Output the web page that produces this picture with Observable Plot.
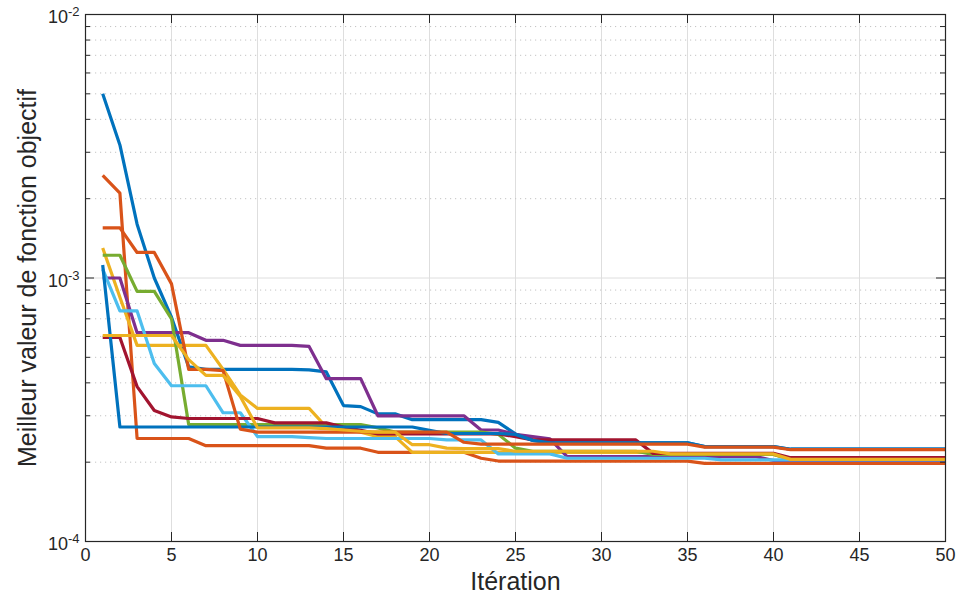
<!DOCTYPE html>
<html>
<head>
<meta charset="utf-8">
<script src="https://cdn.jsdelivr.net/npm/d3@7"></script>
<script src="https://cdn.jsdelivr.net/npm/@observablehq/plot@0.6"></script>
<style>
  html, body { margin: 0; padding: 0; background: #ffffff; }
  #chart { width: 959px; height: 610px; }
</style>
</head>
<body>
<div id="chart"></div>
<script>
// ---------- Data ----------
const iterations = d3.range(1, 51);

const blue1 = [
  5.0e-3, 3.2e-3, 1.6e-3, 1.0e-3, 7.1e-4, 4.6e-4, 4.5e-4, 4.5e-4, 4.5e-4, 4.5e-4,
  4.5e-4, 4.5e-4, 4.48e-4, 4.4e-4, 3.28e-4, 3.25e-4, 3.05e-4, 3.05e-4, 2.9e-4, 2.9e-4,
  2.9e-4, 2.9e-4, 2.9e-4, 2.83e-4, 2.56e-4, 2.42e-4, 2.37e-4, 2.37e-4, 2.37e-4, 2.37e-4,
  2.37e-4, 2.37e-4, 2.37e-4, 2.37e-4, 2.37e-4, 2.29e-4, 2.29e-4, 2.29e-4, 2.29e-4, 2.29e-4,
  2.24e-4, 2.24e-4, 2.24e-4, 2.24e-4, 2.24e-4, 2.24e-4, 2.24e-4, 2.24e-4, 2.24e-4, 2.24e-4
];
const orange1 = [
  2.45e-3, 2.1e-3, 2.46e-4, 2.46e-4, 2.46e-4, 2.46e-4, 2.31e-4, 2.31e-4, 2.31e-4, 2.31e-4,
  2.31e-4, 2.31e-4, 2.31e-4, 2.26e-4, 2.26e-4, 2.26e-4, 2.18e-4, 2.18e-4, 2.18e-4, 2.18e-4,
  2.18e-4, 2.18e-4, 2.07e-4, 2.02e-4, 2.02e-4, 2.02e-4, 2.02e-4, 2.02e-4, 2.02e-4, 2.02e-4,
  2.02e-4, 2.02e-4, 2.02e-4, 2.02e-4, 2.02e-4, 1.98e-4, 1.98e-4, 1.98e-4, 1.98e-4, 1.98e-4,
  1.98e-4, 1.98e-4, 1.98e-4, 1.98e-4, 1.98e-4, 1.98e-4, 1.98e-4, 1.98e-4, 1.98e-4, 1.98e-4
];
const yellow1 = [
  1.3e-3, 8.45e-4, 5.55e-4, 5.55e-4, 5.55e-4, 5.55e-4, 5.55e-4, 4.5e-4, 3.6e-4, 3.2e-4,
  3.2e-4, 3.2e-4, 3.2e-4, 2.72e-4, 2.68e-4, 2.6e-4, 2.5e-4, 2.5e-4, 2.18e-4, 2.18e-4,
  2.18e-4, 2.18e-4, 2.18e-4, 2.18e-4, 2.18e-4, 2.18e-4, 2.18e-4, 2.18e-4, 2.18e-4, 2.18e-4,
  2.18e-4, 2.18e-4, 2.18e-4, 2.14e-4, 2.14e-4, 2.14e-4, 2.14e-4, 2.14e-4, 2.14e-4, 2.14e-4,
  2.05e-4, 2.05e-4, 2.05e-4, 2.05e-4, 2.05e-4, 2.05e-4, 2.05e-4, 2.05e-4, 2.05e-4, 2.05e-4
];
const purple = [
  1.0e-3, 1.0e-3, 6.2e-4, 6.2e-4, 6.2e-4, 6.2e-4, 5.8e-4, 5.8e-4, 5.55e-4, 5.55e-4,
  5.55e-4, 5.55e-4, 5.5e-4, 4.15e-4, 4.15e-4, 4.15e-4, 3.0e-4, 3.0e-4, 3.0e-4, 3.0e-4,
  3.0e-4, 3.0e-4, 2.65e-4, 2.65e-4, 2.55e-4, 2.5e-4, 2.45e-4, 2.1e-4, 2.1e-4, 2.1e-4,
  2.1e-4, 2.1e-4, 2.1e-4, 2.1e-4, 2.1e-4, 2.1e-4, 2.1e-4, 2.1e-4, 2.1e-4, 2.03e-4,
  2.03e-4, 2.03e-4, 2.03e-4, 2.03e-4, 2.03e-4, 2.03e-4, 2.03e-4, 2.03e-4, 2.03e-4, 2.03e-4
];
const green = [
  1.22e-3, 1.22e-3, 8.9e-4, 8.9e-4, 7.0e-4, 2.78e-4, 2.78e-4, 2.78e-4, 2.78e-4, 2.78e-4,
  2.78e-4, 2.78e-4, 2.78e-4, 2.78e-4, 2.78e-4, 2.78e-4, 2.7e-4, 2.6e-4, 2.6e-4, 2.6e-4,
  2.6e-4, 2.6e-4, 2.6e-4, 2.55e-4, 2.26e-4, 2.2e-4, 2.2e-4, 2.2e-4, 2.2e-4, 2.2e-4,
  2.2e-4, 2.2e-4, 2.14e-4, 2.14e-4, 2.14e-4, 2.14e-4, 2.14e-4, 2.14e-4, 2.14e-4, 2.14e-4,
  2.05e-4, 2.05e-4, 2.05e-4, 2.05e-4, 2.05e-4, 2.05e-4, 2.05e-4, 2.05e-4, 2.05e-4, 2.05e-4
];
const lightBlue = [
  1.08e-3, 7.5e-4, 7.5e-4, 4.74e-4, 3.9e-4, 3.9e-4, 3.9e-4, 3.08e-4, 3.08e-4, 2.5e-4,
  2.5e-4, 2.5e-4, 2.48e-4, 2.46e-4, 2.46e-4, 2.46e-4, 2.46e-4, 2.46e-4, 2.46e-4, 2.46e-4,
  2.43e-4, 2.43e-4, 2.43e-4, 2.15e-4, 2.15e-4, 2.15e-4, 2.15e-4, 2.07e-4, 2.07e-4, 2.07e-4,
  2.07e-4, 2.07e-4, 2.07e-4, 2.07e-4, 2.07e-4, 2.07e-4, 2.04e-4, 2.04e-4, 2.04e-4, 2.04e-4,
  2.04e-4, 2.04e-4, 2.04e-4, 2.04e-4, 2.04e-4, 2.04e-4, 2.04e-4, 2.04e-4, 2.04e-4, 2.04e-4
];
const darkRed = [
  5.95e-4, 5.95e-4, 3.87e-4, 3.14e-4, 2.97e-4, 2.93e-4, 2.93e-4, 2.93e-4, 2.93e-4, 2.93e-4,
  2.82e-4, 2.82e-4, 2.82e-4, 2.82e-4, 2.72e-4, 2.64e-4, 2.56e-4, 2.56e-4, 2.56e-4, 2.56e-4,
  2.56e-4, 2.56e-4, 2.56e-4, 2.56e-4, 2.5e-4, 2.43e-4, 2.43e-4, 2.43e-4, 2.43e-4, 2.43e-4,
  2.43e-4, 2.43e-4, 2.16e-4, 2.16e-4, 2.16e-4, 2.16e-4, 2.16e-4, 2.16e-4, 2.16e-4, 2.16e-4,
  2.08e-4, 2.08e-4, 2.08e-4, 2.08e-4, 2.08e-4, 2.08e-4, 2.08e-4, 2.08e-4, 2.08e-4, 2.08e-4
];
const blue2 = [
  1.12e-3, 2.72e-4, 2.72e-4, 2.72e-4, 2.72e-4, 2.72e-4, 2.72e-4, 2.72e-4, 2.72e-4, 2.72e-4,
  2.72e-4, 2.72e-4, 2.72e-4, 2.72e-4, 2.72e-4, 2.72e-4, 2.72e-4, 2.72e-4, 2.72e-4, 2.64e-4,
  2.57e-4, 2.57e-4, 2.57e-4, 2.57e-4, 2.55e-4, 2.42e-4, 2.37e-4, 2.37e-4, 2.37e-4, 2.37e-4,
  2.37e-4, 2.37e-4, 2.37e-4, 2.37e-4, 2.37e-4, 2.29e-4, 2.29e-4, 2.29e-4, 2.29e-4, 2.29e-4,
  2.24e-4, 2.24e-4, 2.24e-4, 2.24e-4, 2.24e-4, 2.24e-4, 2.24e-4, 2.24e-4, 2.24e-4, 2.24e-4
];
const orange2 = [
  1.55e-3, 1.55e-3, 1.25e-3, 1.25e-3, 9.5e-4, 4.5e-4, 4.5e-4, 4.45e-4, 2.67e-4, 2.6e-4,
  2.6e-4, 2.6e-4, 2.6e-4, 2.6e-4, 2.6e-4, 2.6e-4, 2.6e-4, 2.6e-4, 2.6e-4, 2.6e-4,
  2.6e-4, 2.38e-4, 2.34e-4, 2.34e-4, 2.34e-4, 2.34e-4, 2.34e-4, 2.34e-4, 2.34e-4, 2.34e-4,
  2.34e-4, 2.34e-4, 2.34e-4, 2.34e-4, 2.34e-4, 2.28e-4, 2.28e-4, 2.28e-4, 2.28e-4, 2.28e-4,
  2.23e-4, 2.23e-4, 2.23e-4, 2.23e-4, 2.23e-4, 2.23e-4, 2.23e-4, 2.23e-4, 2.23e-4, 2.23e-4
];
const yellow2 = [
  6.05e-4, 6.05e-4, 6.05e-4, 6.05e-4, 6.05e-4, 4.9e-4, 4.27e-4, 4.27e-4, 3.55e-4, 2.7e-4,
  2.7e-4, 2.7e-4, 2.7e-4, 2.68e-4, 2.65e-4, 2.62e-4, 2.6e-4, 2.6e-4, 2.33e-4, 2.33e-4,
  2.26e-4, 2.25e-4, 2.25e-4, 2.25e-4, 2.2e-4, 2.2e-4, 2.2e-4, 2.2e-4, 2.2e-4, 2.2e-4,
  2.2e-4, 2.2e-4, 2.2e-4, 2.15e-4, 2.15e-4, 2.15e-4, 2.15e-4, 2.15e-4, 2.15e-4, 2.15e-4,
  2.05e-4, 2.05e-4, 2.05e-4, 2.05e-4, 2.05e-4, 2.05e-4, 2.05e-4, 2.05e-4, 2.05e-4, 2.05e-4
];

// Draw order (later on top) and colours (MATLAB default order)
const seriesValues = [blue1, orange1, yellow1, purple, green, lightBlue, darkRed, blue2, orange2, yellow2];
const seriesColors = ["#0072BD", "#D95319", "#EDB120", "#7E2F8E", "#77AC30", "#4DBEEE", "#A2142F", "#0072BD", "#D95319", "#EDB120"];

const xTicks = [0, 5, 10, 15, 20, 25, 30, 35, 40, 45, 50];
const yMajor = [1e-4, 1e-3, 1e-2];
const yMajorLabels = ["10^-4", "10^-3", "10^-2"];
const yMinor = [2e-4, 3e-4, 4e-4, 5e-4, 6e-4, 7e-4, 8e-4, 9e-4, 2e-3, 3e-3, 4e-3, 5e-3, 6e-3, 7e-3, 8e-3, 9e-3];
const xLabel = "Itération";
const yLabel = "Meilleur valeur de fonction objectif";

// ---------- Layout ----------
const W = 959, H = 610;
const mL = 85, mR = 14, mT = 14, mB = 69;
const PW = W - mL - mR, PH = H - mT - mB;
const axisColor = "#262626";
const fontStack = "'Liberation Sans', Arial, Helvetica, sans-serif";

const lineMarks = seriesValues.map((vals, s) =>
  Plot.line(iterations.map((it, i) => ({it, v: vals[i]})), {
    x: "it", y: "v", stroke: seriesColors[s], strokeWidth: 3.2,
    strokeLinejoin: "round", strokeLinecap: "butt"
  })
);

const chart = Plot.plot({
  width: W, height: H,
  marginLeft: mL, marginRight: mR, marginTop: mT, marginBottom: mB,
  style: {background: "#ffffff", color: axisColor, fontFamily: fontStack, fontSize: "18px", overflow: "visible"},
  x: {domain: [0, 50]},
  y: {type: "log", domain: [1e-4, 1e-2]},
  marks: [
    Plot.gridX({ticks: xTicks, stroke: "#dedede", strokeOpacity: 1, strokeWidth: 1}),
    Plot.gridY({ticks: yMinor, stroke: "#c4c4c4", strokeOpacity: 1, strokeWidth: 1, strokeDasharray: "1.2,3.8"}),
    Plot.gridY({ticks: [1e-3], stroke: "#dedede", strokeOpacity: 1, strokeWidth: 1}),
    ...lineMarks,
    // inward tick marks on all four sides (MATLAB box style)
    Plot.tickY(yMajor, {y: d => d, insetRight: PW - 9, stroke: axisColor, strokeWidth: 1}),
    Plot.tickY(yMajor, {y: d => d, insetLeft: PW - 9, stroke: axisColor, strokeWidth: 1}),
    Plot.tickY(yMinor, {y: d => d, insetRight: PW - 5, stroke: axisColor, strokeWidth: 1}),
    Plot.tickY(yMinor, {y: d => d, insetLeft: PW - 5, stroke: axisColor, strokeWidth: 1}),
    Plot.tickX(xTicks, {x: d => d, insetTop: PH - 9, stroke: axisColor, strokeWidth: 1}),
    Plot.tickX(xTicks, {x: d => d, insetBottom: PH - 9, stroke: axisColor, strokeWidth: 1}),
    Plot.frame({stroke: axisColor, strokeWidth: 1.2}),
    Plot.axisX({ticks: xTicks, tickSize: 0, tickPadding: 7, label: null, fontSize: 18, fill: axisColor}),
    Plot.axisY({ticks: yMajor, tickSize: 0, tickPadding: 6, label: null, fontSize: 18, fill: axisColor,
      dy: 3, tickFormat: d => yMajorLabels[yMajor.indexOf(d)]}),
    Plot.text([xLabel], {text: d => d, frameAnchor: "bottom", textAnchor: "middle", dy: 48, fontSize: 25,
      fill: axisColor}),
    Plot.text([yLabel], {text: d => d, frameAnchor: "left", textAnchor: "middle", rotate: -90, dx: -58, fontSize: 25,
      fill: axisColor})
  ]
});

// Render "10^-k" tick labels with a real superscript
d3.select(chart).selectAll('[aria-label="y-axis tick label"] text').each(function () {
  const t = d3.select(this);
  const s = this.textContent;
  const parts = s.split("^");
  if (parts.length !== 2) return;
  t.text(null);
  t.append("tspan").text(parts[0]);
  t.append("tspan").attr("dy", "-7").attr("font-size", "13px").text(parts[1]);
});

document.getElementById("chart").appendChild(chart);
</script>
</body>
</html>
